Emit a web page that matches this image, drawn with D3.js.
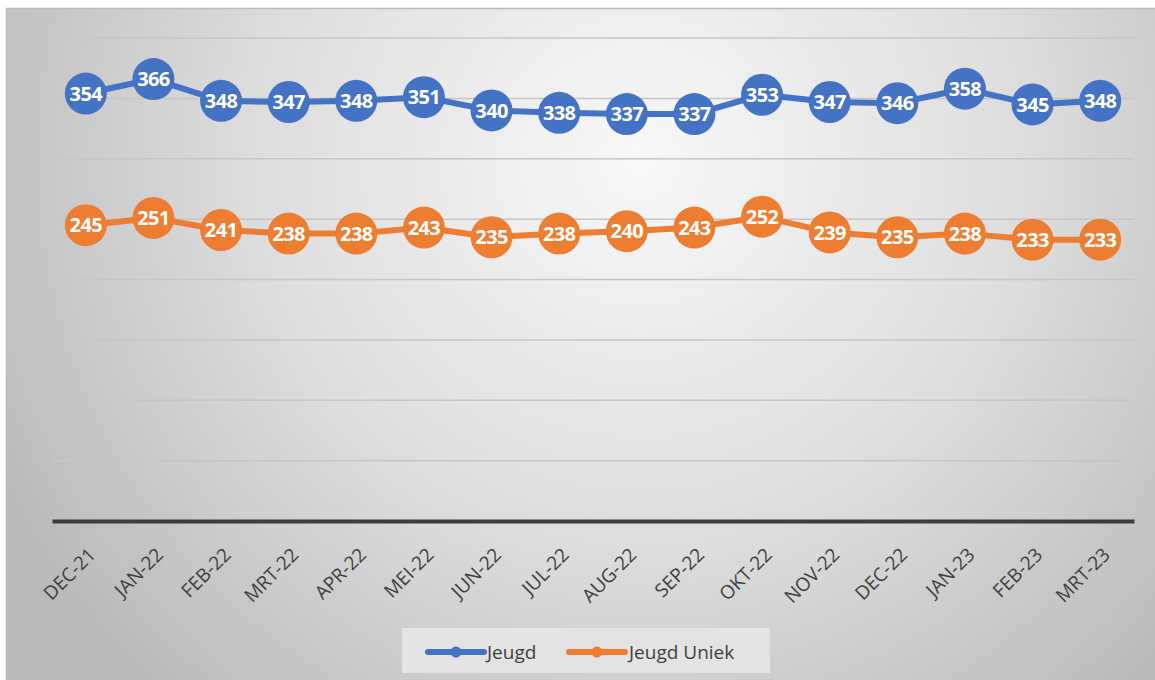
<!DOCTYPE html>
<html><head><meta charset="utf-8">
<script src="https://cdn.jsdelivr.net/npm/d3@7/dist/d3.min.js"></script>
<style>body{margin:0;background:#fff;}svg{display:block;}</style>
</head><body>
<svg id="c" width="1155" height="680"></svg>
<script>
const categories = ["DEC-21","JAN-22","FEB-22","MRT-22","APR-22","MEI-22","JUN-22","JUL-22","AUG-22","SEP-22","OKT-22","NOV-22","DEC-22","JAN-23","FEB-23","MRT-23"];
const jeugd = [354,366,348,347,348,351,340,338,337,337,353,347,346,358,345,348];
const jeugdUniek = [245,251,241,238,238,243,235,238,240,243,252,239,235,238,233,233];
const yTicks = [0,50,100,150,200,250,300,350,400];
const seriesNames = ["Jeugd","Jeugd Uniek"];
const colors = ["#4472C4","#ED7D31"];

(function(){
const svg = d3.select("#c");
const defs = svg.append("defs");
const rg = defs.append("radialGradient").attr("id","bg").attr("gradientUnits","userSpaceOnUse")
  .attr("cx",640).attr("cy",160).attr("r",720);
rg.append("stop").attr("offset","0").attr("stop-color","#f8f8f8");
rg.append("stop").attr("offset","0.55").attr("stop-color","#dcdcdc");
rg.append("stop").attr("offset","1").attr("stop-color","#bababa");

svg.append("rect").attr("x",6.5).attr("y",8.5).attr("width",1160).attr("height",680)
  .attr("fill","url(#bg)").attr("stroke","#bcbcbc").attr("stroke-width",1.5);

const pLeft=52, pRight=1134, pTop=38, pBottom=521;
const x = d3.scaleBand().domain(categories).range([pLeft,pRight]);
const y = d3.scaleLinear().domain([0,400]).range([pBottom,pTop]);

svg.append("g").selectAll("line").data(yTicks.slice(1)).join("line")
  .attr("x1",pLeft).attr("x2",pRight).attr("y1",d=>y(d)).attr("y2",d=>y(d))
  .attr("stroke","#c6c6c6").attr("stroke-width",1.5);

const xAxis = svg.append("g").attr("transform",`translate(0,${pBottom})`)
  .call(d3.axisBottom(x).tickSize(0).tickPadding(0));
xAxis.attr("font-size",null).attr("font-family",null);
xAxis.select(".domain").attr("stroke","#3c3c3c").attr("stroke-width",4);
xAxis.selectAll("text")
  .style("font-family","'Open Sans', sans-serif").style("font-size","19px").attr("fill","#404040")
  .attr("text-anchor","end").attr("dy",0).attr("y",0)
  .attr("transform","translate(11,35) rotate(-45)");

const cx = d => x(d)+x.bandwidth()/2;
[jeugd, jeugdUniek].forEach((vals,i)=>{
  const g = svg.append("g");
  const data = categories.map((c,j)=>({c, v: vals[j]}));
  g.append("path").datum(data)
    .attr("d", d3.line().x(d=>cx(d.c)).y(d=>y(d.v)))
    .attr("fill","none").attr("stroke",colors[i]).attr("stroke-width",6).attr("stroke-linejoin","round");
  g.selectAll("circle").data(data).join("circle")
    .attr("cx",d=>cx(d.c)).attr("cy",d=>y(d.v)).attr("r",21).attr("fill",colors[i]);
  g.selectAll("text").data(data).join("text")
    .attr("x",d=>cx(d.c)).attr("y",d=>y(d.v)).attr("dy","0.36em")
    .attr("text-anchor","middle").style("font-family","'Open Sans', sans-serif")
    .attr("font-weight","bold").style("font-size","20px").attr("fill","#fff")
    .attr("letter-spacing","-0.6").text(d=>d.v);
});

const lg = svg.append("g");
lg.append("rect").attr("x",402).attr("y",628).attr("width",368).attr("height",45).attr("fill","#e3e3e3");
const legendItems = [{x:428, tx:487},{x:569, tx:629}];
seriesNames.forEach((n,i)=>{
  const it = legendItems[i];
  lg.append("line").attr("x1",it.x).attr("x2",it.x+56).attr("y1",652).attr("y2",652)
    .attr("stroke",colors[i]).attr("stroke-width",6).attr("stroke-linecap","round");
  lg.append("circle").attr("cx",it.x+28).attr("cy",652).attr("r",5.5).attr("fill",colors[i]);
  lg.append("text").attr("x",it.tx).attr("y",652).attr("dy","0.35em")
    .style("font-family","'Open Sans', sans-serif").style("font-size","19px").attr("fill","#404040").text(n);
});
})();
</script>
</body></html>
